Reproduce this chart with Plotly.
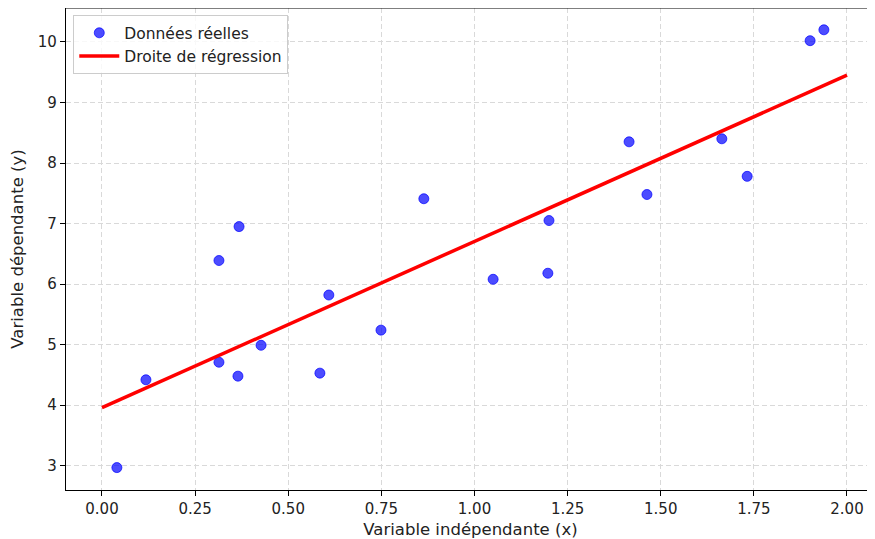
import plotly.graph_objects as go

x_data = [0.040, 0.118, 0.314, 0.314, 0.365, 0.368, 0.427, 0.585, 0.609, 0.749,
          0.864, 1.050, 1.197, 1.200, 1.415, 1.463, 1.664, 1.732, 1.901, 1.938]
y_data = [2.97, 4.42, 6.39, 4.71, 4.48, 6.95, 4.99, 4.53, 5.82, 5.24,
          7.41, 6.08, 6.18, 7.05, 8.35, 7.48, 8.40, 7.78, 10.02, 10.20]
line_x = [0.0, 2.0]
line_y = [3.96, 9.45]

x_ticks = [0.0, 0.25, 0.5, 0.75, 1.0, 1.25, 1.5, 1.75, 2.0]
x_tick_labels = ["0.00", "0.25", "0.50", "0.75", "1.00", "1.25", "1.50", "1.75", "2.00"]
y_ticks = [3, 4, 5, 6, 7, 8, 9, 10]

font = "DejaVu Sans"

fig = go.Figure()
fig.add_trace(go.Scatter(
    x=x_data, y=y_data, mode="markers", name="Données réelles",
    marker=dict(color="rgba(0,0,255,0.7)", size=10,
                line=dict(color="rgba(0,0,255,0.7)", width=1)),
))
fig.add_trace(go.Scatter(
    x=line_x, y=line_y, mode="lines", name="Droite de régression",
    line=dict(color="red", width=3.5),
))

fig.update_layout(
    width=867, height=531,
    margin=dict(l=58, r=0, t=0, b=49),
    paper_bgcolor="white", plot_bgcolor="white",
    font=dict(family=font, size=15, color="#222222"),
    showlegend=True,
    legend=dict(x=0.009, y=0.985, xanchor="left", yanchor="top",
                bgcolor="rgba(255,255,255,0.8)", bordercolor="#cccccc",
                borderwidth=1, font=dict(size=15.5, family=font),
                itemwidth=40),
)
fig.update_xaxes(
    range=[-0.0966, 2.0752], tickvals=x_ticks, ticktext=x_tick_labels,
    showgrid=True, gridcolor="#d9d9d9", griddash="5px,3px", gridwidth=1,
    showline=True, linecolor="black", linewidth=1.2,
    ticks="outside", ticklen=5, tickcolor="black",
    zeroline=False,
    title=dict(text="Variable indépendante (x)", font=dict(size=16.5, family=font), standoff=8),
)
fig.update_yaxes(
    range=[2.60, 10.56], tickvals=y_ticks,
    showgrid=True, gridcolor="#d9d9d9", griddash="5px,3px", gridwidth=1,
    showline=True, linecolor="black", linewidth=1.2,
    ticks="outside", ticklen=5, tickcolor="black",
    zeroline=False,
    title=dict(text="Variable dépendante (y)", font=dict(size=16.5, family=font), standoff=10),
)
fig.add_shape(type="line", xref="paper", yref="paper", x0=0, x1=1, y0=1, y1=1,
              line=dict(color="black", width=1.2))

fig.write_html("out.html")
